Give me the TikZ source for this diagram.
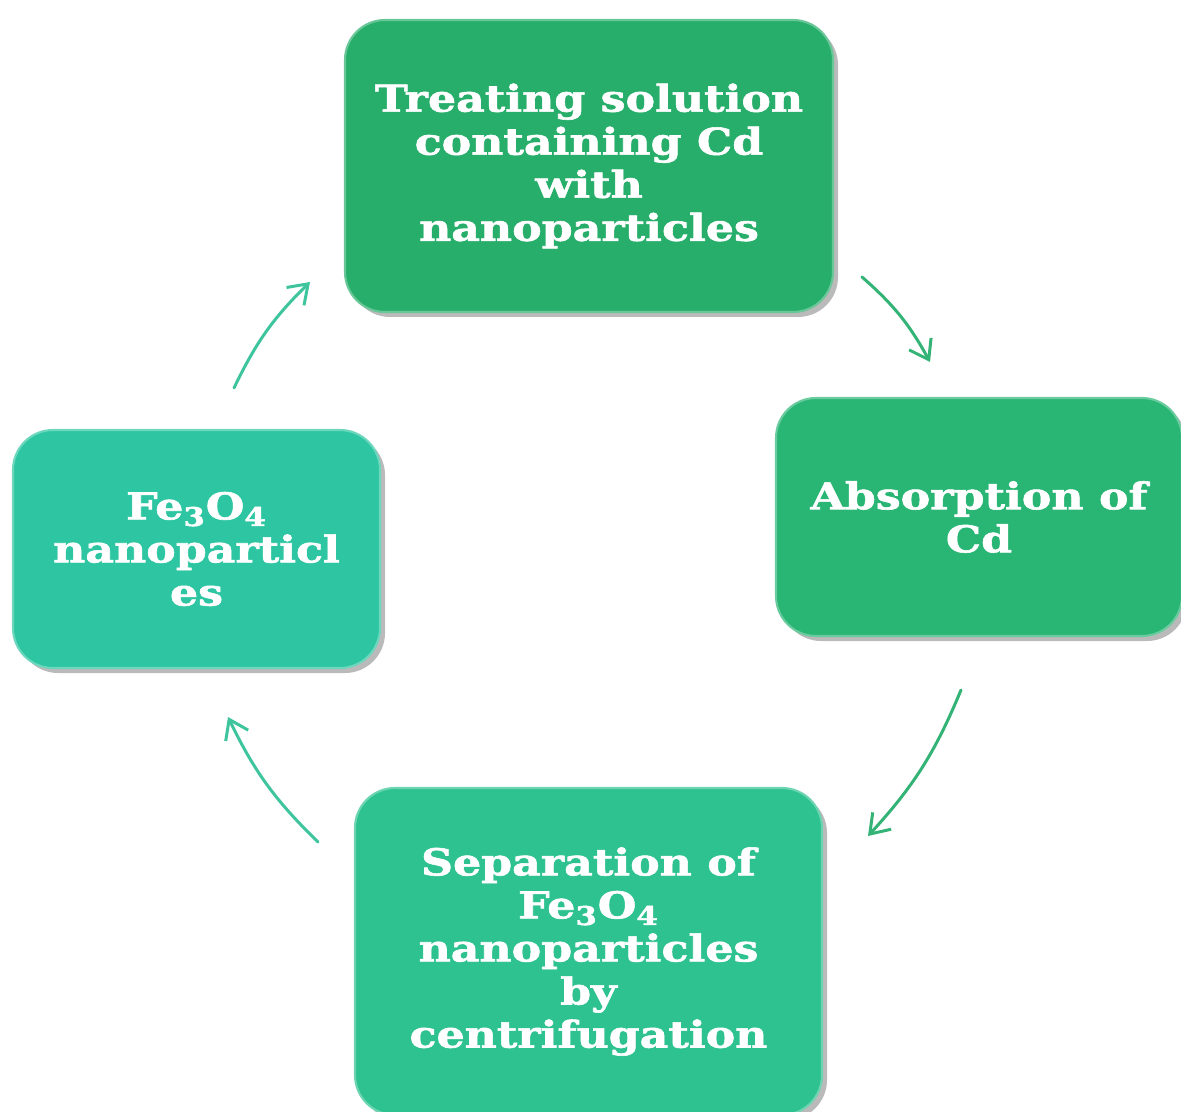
\documentclass[tikz,border=0pt]{standalone}
\usepackage{fontspec}
\setmainfont{DejaVu Serif}
\newfontfamily\boxfont{DejaVu Serif}[FakeStretch=1.2, BoldFeatures={FakeBold=1.6}]
\usetikzlibrary{arrows.meta,shadows}

\definecolor{boxgreen}{HTML}{27AE6B}
\definecolor{boxgreenb}{HTML}{29B574}
\definecolor{boxteal}{HTML}{2EC6A2}
\definecolor{boxtealb}{HTML}{2DC290}
\definecolor{arrowgreen}{HTML}{34B377}
\definecolor{arrowteal}{HTML}{3EC59D}

\tikzset{
  stepbox/.style={rectangle, rounded corners=0.8cm, align=center,
    text=white, font=\boxfont\bfseries\fontsize{21}{24.5}\selectfont,
    line width=1.2pt, inner sep=0pt,
    drop shadow={shadow xshift=0.10cm, shadow yshift=-0.10cm,
      opacity=0.45, fill=black!60}},
  cyclearrow/.style={line width=0.06cm, line cap=round,
    -{Straight Barb[length=0.36cm, width=0.50cm, line width=0.06cm]}},
}

\begin{document}
\begin{tikzpicture}
                    \useasboundingbox (0,0) rectangle (23.620000,22.220000);
                    \clip (0,0) rectangle (23.620000,22.220000);

                    % Drawing box for treating step
                    \node [stepbox, fill=boxgreen, draw=boxgreen!70!white,
                      minimum width=9.760000cm, minimum height=5.840000cm]
                      (treat) at (11.780000,18.900000)
                      {Treating solution\\containing Cd\\with\\nanoparticles};%

                    % Drawing box for absorption step
                    \node [stepbox, fill=boxgreenb, draw=boxgreenb!70!white,
                      minimum width=8.120000cm, minimum height=4.760000cm]
                      (absorb) at (19.580000,11.880000)
                      {Absorption of\\Cd};%

                    % Drawing box for separation step
                    \node [stepbox, fill=boxtealb, draw=boxtealb!70!white,
                      minimum width=9.340000cm, minimum height=6.540000cm]
                      (separate) at (11.770000,3.190000)
                      {Separation of\\Fe\textsubscript{3}O\textsubscript{4}\\nanoparticles\\by\\centrifugation};%

                    % Drawing box for particles
                    \node [stepbox, fill=boxteal, draw=boxteal!70!white,
                      minimum width=7.340000cm, minimum height=4.760000cm]
                      (particles) at (3.930000,11.240000)
                      {Fe\textsubscript{3}O\textsubscript{4}\\nanoparticl\\es};%

                    % Marking arrow ends
                    \coordinate (treat out) at (17.240000,16.680000);
                    \coordinate (absorb in) at (18.600000,14.980000);
                    \coordinate (absorb out) at (19.220000,8.420000);
                    \coordinate (separate in) at (17.360000,5.500000);
                    \coordinate (separate out) at (6.360000,5.380000);
                    \coordinate (particles in) at (4.560000,7.880000);
                    \coordinate (particles out) at (4.680000,14.460000);
                    \coordinate (treat in) at (6.200000,16.580000);

                    % Drawing arrows of the cycle
                    \draw [cyclearrow, arrowgreen] (treat out) to [bend left=10] (absorb in);%
                    \draw [cyclearrow, arrowgreen] (absorb out) to [bend left=10] (separate in);%
                    \draw [cyclearrow, arrowteal] (separate out) to [bend left=10] (particles in);%
                    \draw [cyclearrow, arrowteal] (particles out) to [bend left=10] (treat in);%
\end{tikzpicture}
\end{document}
